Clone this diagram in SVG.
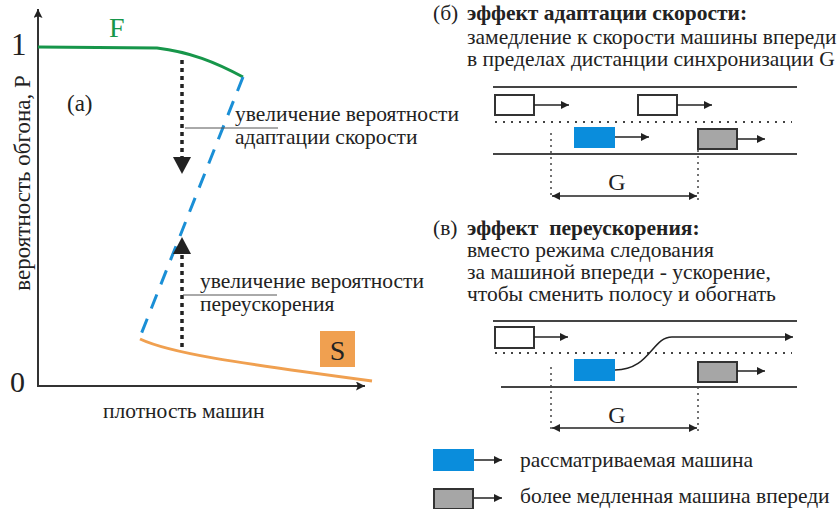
<svg xmlns="http://www.w3.org/2000/svg" width="839" height="509" viewBox="0 0 839 509">
<defs>
<style>
text{font-family:"Liberation Serif","Times New Roman",serif;fill:#222;}
.t{font-size:21.5px;}
.b{font-weight:bold;}
.ax{stroke:#333;stroke-width:2;fill:none;}
.road{stroke:#444;stroke-width:2;fill:none;}
.dot{stroke:#444;stroke-width:2;stroke-dasharray:2 6;fill:none;}
.vdot{stroke:#444;stroke-width:1.5;stroke-dasharray:2 4;fill:none;}
.thin{stroke:#222;stroke-width:1.5;fill:none;}
.lead{stroke:#555;stroke-width:1;fill:none;}
.white{fill:#fff;stroke:#333;stroke-width:2;}
.blue{fill:#0a8ddc;}
.grey{fill:#a6a6a6;stroke:#333;stroke-width:2;}
</style>
<marker id="ah" viewBox="0 0 10 10" refX="10" refY="5" markerWidth="10" markerHeight="8" markerUnits="userSpaceOnUse" orient="auto"><path d="M0,0 L10,5 L0,10 Z" fill="#222"/></marker>
<marker id="ahs" viewBox="0 0 10 10" refX="0" refY="5" markerWidth="10" markerHeight="8" markerUnits="userSpaceOnUse" orient="auto"><path d="M10,0 L0,5 L10,10 Z" fill="#222"/></marker>
<marker id="axh" viewBox="0 0 10 10" refX="10" refY="5" markerWidth="12" markerHeight="9" markerUnits="userSpaceOnUse" orient="auto"><path d="M0,0 L10,5 L0,10 L2,5 Z" fill="#222"/></marker>
</defs>

<g id="plot">
<line class="ax" x1="38" y1="386" x2="38" y2="9" marker-end="url(#axh)"/>
<line class="ax" x1="37" y1="386" x2="365" y2="386" marker-end="url(#axh)"/>
<text x="11" y="55" style="font-size:31px">1</text>
<text x="10" y="392" style="font-size:30px">0</text>
<text transform="translate(30,183) rotate(-90)" text-anchor="middle" style="font-size:23px">вероятность обгона, P</text>
<text class="t" x="103" y="418">плотность машин</text>
<text x="67" y="111" style="font-size:23px">(a)</text>
</g>

<g id="curve-F">
<path d="M38,47 L157,48 C190,52 215,62 243,77" stroke="#17964a" stroke-width="3" fill="none"/>
<text x="109" y="37" style="font-size:28px;fill:#17964a">F</text>
</g>

<g id="curve-unstable">
<line x1="243" y1="77" x2="140" y2="337" stroke="#1a8fd6" stroke-width="3" stroke-dasharray="15 11"/>
</g>

<g id="curve-S">
<path d="M140,339 C170,353 230,362 372,381" stroke="#f0a050" stroke-width="3" fill="none"/>
<rect x="320" y="331" width="35" height="36" fill="#f0a050"/>
<text x="337.5" y="360" text-anchor="middle" style="font-size:28px">S</text>
</g>

<g id="arrow-down">
<line x1="182" y1="60" x2="182" y2="158" stroke="#222" stroke-width="3.5" stroke-dasharray="4 4"/>
<path d="M173,157 L191,157 L182,174 Z" fill="#222"/>
</g>
<g id="arrow-up">
<line x1="182" y1="347" x2="182" y2="253" stroke="#222" stroke-width="3.5" stroke-dasharray="4 4"/>
<path d="M173,254 L191,254 L182,237 Z" fill="#222"/>
</g>

<g id="label-adapt">
<line class="lead" x1="185" y1="128" x2="278" y2="128"/>
<text class="t" x="235" y="121">увеличение вероятности</text>
<text class="t" x="235" y="144">адаптации скорости</text>
</g>
<g id="label-over">
<line class="lead" x1="183" y1="295" x2="277" y2="295"/>
<text class="t" x="200" y="288">увеличение вероятности</text>
<text class="t" x="200" y="311">переускорения</text>
</g>

<g id="panel-b">
<text class="t" x="433" y="20">(б)</text>
<text class="t b" x="467" y="20">эффект адаптации скорости:</text>
<text class="t" x="467" y="44">замедление к скорости машины впереди</text>
<text class="t" x="467" y="66">в пределах дистанции синхронизации G</text>
<line class="road" x1="493" y1="87" x2="797" y2="87"/>
<line class="dot" x1="495" y1="122" x2="792" y2="122"/>
<line class="road" x1="493" y1="154" x2="797" y2="154"/>
<rect class="white" x="495" y="95" width="39" height="20"/>
<line class="thin" x1="534" y1="105" x2="569" y2="105" marker-end="url(#ah)"/>
<rect class="white" x="638" y="95" width="39" height="20"/>
<line class="thin" x1="677" y1="105" x2="712" y2="105" marker-end="url(#ah)"/>
<rect class="blue" x="574" y="127" width="41" height="21"/>
<line class="thin" x1="615" y1="137" x2="649" y2="137" marker-end="url(#ah)"/>
<rect class="grey" x="698" y="129" width="39" height="20"/>
<line class="thin" x1="737" y1="139" x2="765" y2="139" marker-end="url(#ah)"/>
<line class="vdot" x1="551" y1="133" x2="551" y2="198"/>
<line class="vdot" x1="698" y1="150" x2="698" y2="203"/>
<line class="thin" x1="552" y1="196" x2="697" y2="196" marker-start="url(#ahs)" marker-end="url(#ah)"/>
<text x="617" y="190" text-anchor="middle" style="font-size:24px">G</text>
</g>

<g id="panel-v">
<text class="t" x="433" y="235">(в)</text>
<text class="t b" x="467" y="235" xml:space="preserve">эффект  переускорения:</text>
<text class="t" x="467" y="257">вместо режима следования</text>
<text class="t" x="467" y="279">за машиной впереди - ускорение,</text>
<text class="t" x="467" y="301">чтобы сменить полосу и обогнать</text>
<line class="road" x1="493" y1="321" x2="797" y2="321"/>
<line class="dot" x1="495" y1="353" x2="792" y2="353"/>
<line class="road" x1="501" y1="387" x2="797" y2="387"/>
<rect class="white" x="495" y="327" width="39" height="21"/>
<line class="thin" x1="534" y1="337" x2="568" y2="337" marker-end="url(#ah)"/>
<rect class="blue" x="574" y="359" width="41" height="22"/>
<path class="thin" d="M615,370 C650,370 652,337 672,337 L793,337" marker-end="url(#ah)"/>
<rect class="grey" x="698" y="362" width="39" height="20"/>
<line class="thin" x1="737" y1="371" x2="765" y2="371" marker-end="url(#ah)"/>
<line class="vdot" x1="551" y1="367" x2="551" y2="430"/>
<line class="vdot" x1="698" y1="387" x2="698" y2="435"/>
<line class="thin" x1="552" y1="428" x2="697" y2="428" marker-start="url(#ahs)" marker-end="url(#ah)"/>
<text x="617" y="423" text-anchor="middle" style="font-size:24px">G</text>
</g>

<g id="legend">
<rect class="blue" x="433" y="449" width="41" height="22"/>
<line class="thin" x1="474" y1="460" x2="502" y2="460" marker-end="url(#ah)"/>
<text class="t" x="520" y="467">рассматриваемая машина</text>
<rect class="grey" x="434" y="489" width="39" height="20"/>
<line class="thin" x1="474" y1="498" x2="502" y2="498" marker-end="url(#ah)"/>
<text class="t" x="520" y="503">более медленная машина впереди</text>
</g>
</svg>
